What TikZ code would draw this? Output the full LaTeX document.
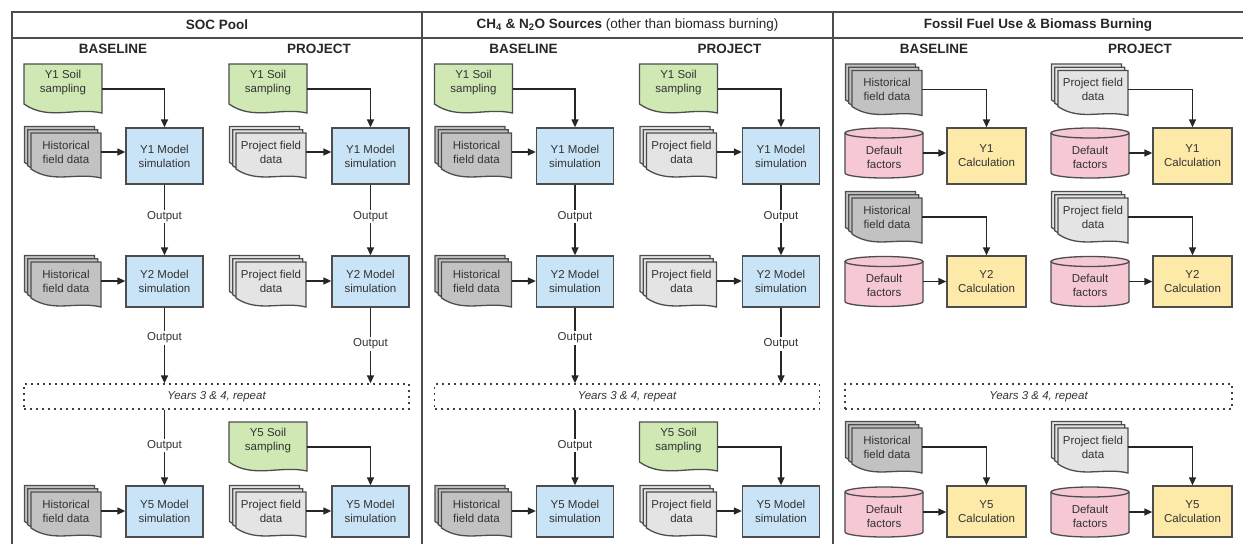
\documentclass[tikz,border=0pt]{standalone}
\usepackage{fontspec}
\setmainfont{Liberation Sans}
\usepackage{xcolor}
\usetikzlibrary{arrows.meta}

\definecolor{soilgreen}{HTML}{CFE8B4}
\definecolor{simblue}{HTML}{C9E4F6}
\definecolor{histgray}{HTML}{C2C2C2}
\definecolor{projgray}{HTML}{E4E4E4}
\definecolor{factpink}{HTML}{F5C8D4}
\definecolor{calcyellow}{HTML}{FDE9A8}
\definecolor{edge}{HTML}{4D4D4D}
\definecolor{ink}{HTML}{333333}

% soil sampling sheet: name, x, y, text
\newcommand\soildoc[4]{%
  \draw[shp,fill=soilgreen,shift={(#2,#3)}] (-39,-19) -- (39,-19) -- (39,30)
    .. controls (12,24) and (-15,38) .. (-39,21) -- cycle;
  \node[doclbl,minimum width=78pt] (#1) at (#2,#3) {#4};}
% pile of field data sheets: name, x, y, fill, text
\newcommand\stackdoc[5]{%
  \foreach \s in {6.6,3.3,0}{
    \draw[shp,fill=#4,shift={(#2-\s,#3-\s)}] (-35,-19) -- (35,-19) -- (35,26)
      .. controls (10,20) and (-13,32) .. (-35,17) -- cycle;}
  \node[doclbl,minimum width=70pt] (#1) at (#2,#3) {#5};}
% default factors drum: name, x, y, text
\newcommand\factcyl[4]{%
  \draw[shp,fill=factpink,shift={(#2,#3)}] (-39,-20) -- (-39,20) arc (180:0:39 and 5) -- (39,-20);
  \draw[shp,fill=factpink,shift={(#2,#3)}] (0,-20) ellipse (39 and 5);
  \node[doclbl,minimum width=78pt] (#1) at (#2,#3+4) {#4};}

\begin{document}
\begin{tikzpicture}[x=1pt,y=-1pt,
  shp/.style={draw=edge,line width=1.3pt},
  doclbl/.style={text=ink,align=center,font=\fontsize{11.5}{14}\selectfont,inner sep=0pt},
  simbox/.style={shp,fill=simblue,doclbl,minimum width=77pt,minimum height=51pt},
  calcbox/.style={shp,fill=calcyellow,doclbl,minimum width=79pt,minimum height=51pt},
  yrsbox/.style={draw=black!75,line width=1.3pt,dash pattern=on 2pt off 4pt,doclbl,
    font=\fontsize{11.5}{14}\selectfont\itshape,minimum height=25pt},
  arr/.style={draw=black!85,line width=1.3pt,-{Triangle[length=8pt,width=7pt]}},
  outlbl/.style={fill=white,doclbl,inner sep=1.5pt},
  colhead/.style={font=\fontsize{13.5}{16}\selectfont\bfseries,text=black!85},
  frame/.style={draw=black!70,line width=1.3pt}]
\useasboundingbox (0,0) rectangle (1243,544);
\draw[frame] (12,544) -- (12,12) -- (1243,12);
\draw[frame] (12,38) -- (1243,38);
\draw[frame] (422,12) -- (422,544);
\draw[frame] (833,12) -- (833,544);
\node[colhead] (h-soc) at (217,25) {SOC Pool};
\node[colhead] (h-ghg) at (627.5,25) {CH\textsubscript{4} \& N\textsubscript{2}O Sources \textmd{(other than biomass burning)}};
\node[colhead] (h-ff) at (1038,25) {Fossil Fuel Use \& Biomass Burning};
\node[colhead] (h-sa) at (113,49) {BASELINE};
\node[colhead] (h-sb) at (319,49) {PROJECT};
\node[colhead] (h-ga) at (523.5,49) {BASELINE};
\node[colhead] (h-gb) at (729.5,49) {PROJECT};
\node[colhead] (h-fa) at (934,49) {BASELINE};
\node[colhead] (h-fb) at (1140,49) {PROJECT};

% SOC pool
\soildoc{sa-soil1}{63}{83}{Y1 Soil\\sampling}
\stackdoc{sa-data1}{66}{152}{histgray}{Historical\\field data}
\node[simbox,minimum height=56pt] (sa-sim1) at (164.5,156) {Y1 Model\\simulation};
\stackdoc{sa-data2}{66}{281}{histgray}{Historical\\field data}
\node[simbox] (sa-sim2) at (164.5,281.5) {Y2 Model\\simulation};
\stackdoc{sa-data5}{66}{511}{histgray}{Historical\\field data}
\node[simbox] (sa-sim5) at (164.5,511.5) {Y5 Model\\simulation};
\soildoc{sb-soil1}{268}{83}{Y1 Soil\\sampling}
\stackdoc{sb-data1}{271}{152}{projgray}{Project field\\data}
\node[simbox,minimum height=56pt] (sb-sim1) at (370.5,156) {Y1 Model\\simulation};
\stackdoc{sb-data2}{271}{281}{projgray}{Project field\\data}
\node[simbox] (sb-sim2) at (370.5,281.5) {Y2 Model\\simulation};
\soildoc{sb-soil5}{268}{441}{Y5 Soil\\sampling}
\stackdoc{sb-data5}{271}{511}{projgray}{Project field\\data}
\node[simbox] (sb-sim5) at (370.5,511.5) {Y5 Model\\simulation};
\node[yrsbox,minimum width=385pt] (s-yrs) at (216.5,396.5) {Years 3 \& 4, repeat};
\draw[arr] ([yshift=-6pt]sa-soil1.east) -| (sa-sim1.north);
\draw[arr] (sa-data1.east) -- (sa-data1.east -| sa-sim1.west);
\draw[arr] (sa-sim1) -- node[outlbl,pos=0.45]{Output} (sa-sim2);
\draw[arr] (sa-data2.east) -- (sa-data2.east -| sa-sim2.west);
\draw[arr] (sa-sim2.south) -- node[outlbl,pos=0.4]{Output} (sa-sim2.south |- s-yrs.north);
\draw[arr] (s-yrs.south -| sa-sim5.north) -- node[outlbl,pos=0.47]{Output} (sa-sim5.north);
\draw[arr] (sa-data5.east) -- (sa-data5.east -| sa-sim5.west);
\draw[arr] ([yshift=-6pt]sb-soil1.east) -| (sb-sim1.north);
\draw[arr] (sb-data1.east) -- (sb-data1.east -| sb-sim1.west);
\draw[arr] (sb-sim1) -- node[outlbl,pos=0.45]{Output} (sb-sim2);
\draw[arr] (sb-data2.east) -- (sb-data2.east -| sb-sim2.west);
\draw[arr] (sb-sim2.south) -- node[outlbl,pos=0.48]{Output} (sb-sim2.south |- s-yrs.north);
\draw[arr] ([yshift=-6pt]sb-soil5.east) -| (sb-sim5.north);
\draw[arr] (sb-data5.east) -- (sb-data5.east -| sb-sim5.west);

% CH4 and N2O sources
\soildoc{ga-soil1}{473.5}{83}{Y1 Soil\\sampling}
\stackdoc{ga-data1}{476.5}{152}{histgray}{Historical\\field data}
\node[simbox,minimum height=56pt] (ga-sim1) at (575,156) {Y1 Model\\simulation};
\stackdoc{ga-data2}{476.5}{281}{histgray}{Historical\\field data}
\node[simbox] (ga-sim2) at (575,281.5) {Y2 Model\\simulation};
\stackdoc{ga-data5}{476.5}{511}{histgray}{Historical\\field data}
\node[simbox] (ga-sim5) at (575,511.5) {Y5 Model\\simulation};
\soildoc{gb-soil1}{678.5}{83}{Y1 Soil\\sampling}
\stackdoc{gb-data1}{681.5}{152}{projgray}{Project field\\data}
\node[simbox,minimum height=56pt] (gb-sim1) at (781,156) {Y1 Model\\simulation};
\stackdoc{gb-data2}{681.5}{281}{projgray}{Project field\\data}
\node[simbox] (gb-sim2) at (781,281.5) {Y2 Model\\simulation};
\soildoc{gb-soil5}{678.5}{441}{Y5 Soil\\sampling}
\stackdoc{gb-data5}{681.5}{511}{projgray}{Project field\\data}
\node[simbox] (gb-sim5) at (781,511.5) {Y5 Model\\simulation};
\node[yrsbox,minimum width=385pt] (g-yrs) at (627,396.5) {Years 3 \& 4, repeat};
\draw[arr] ([yshift=-6pt]ga-soil1.east) -| (ga-sim1.north);
\draw[arr] (ga-data1.east) -- (ga-data1.east -| ga-sim1.west);
\draw[arr] (ga-sim1) -- node[outlbl,pos=0.45]{Output} (ga-sim2);
\draw[arr] (ga-data2.east) -- (ga-data2.east -| ga-sim2.west);
\draw[arr] (ga-sim2.south) -- node[outlbl,pos=0.4]{Output} (ga-sim2.south |- g-yrs.north);
\draw[arr] (g-yrs.south -| ga-sim5.north) -- node[outlbl,pos=0.47]{Output} (ga-sim5.north);
\draw[arr] (ga-data5.east) -- (ga-data5.east -| ga-sim5.west);
\draw[arr] ([yshift=-6pt]gb-soil1.east) -| (gb-sim1.north);
\draw[arr] (gb-data1.east) -- (gb-data1.east -| gb-sim1.west);
\draw[arr] (gb-sim1) -- node[outlbl,pos=0.45]{Output} (gb-sim2);
\draw[arr] (gb-data2.east) -- (gb-data2.east -| gb-sim2.west);
\draw[arr] (gb-sim2.south) -- node[outlbl,pos=0.48]{Output} (gb-sim2.south |- g-yrs.north);
\draw[arr] ([yshift=-6pt]gb-soil5.east) -| (gb-sim5.north);
\draw[arr] (gb-data5.east) -- (gb-data5.east -| gb-sim5.west);

% fossil fuel use and biomass burning
\stackdoc{fa-data1}{887}{89.5}{histgray}{Historical\\field data}
\factcyl{fa-fact1}{884}{153}{Default\\factors}
\node[calcbox,minimum height=56pt] (fa-calc1) at (986.5,156) {Y1\\Calculation};
\stackdoc{fa-data2}{887}{217}{histgray}{Historical\\field data}
\factcyl{fa-fact2}{884}{281.5}{Default\\factors}
\node[calcbox] (fa-calc2) at (986.5,281.5) {Y2\\Calculation};
\stackdoc{fa-data5}{887}{447}{histgray}{Historical\\field data}
\factcyl{fa-fact5}{884}{512}{Default\\factors}
\node[calcbox] (fa-calc5) at (986.5,511.5) {Y5\\Calculation};
\stackdoc{fb-data1}{1093}{89.5}{projgray}{Project field\\data}
\factcyl{fb-fact1}{1090}{153}{Default\\factors}
\node[calcbox,minimum height=56pt] (fb-calc1) at (1192.5,156) {Y1\\Calculation};
\stackdoc{fb-data2}{1093}{217}{projgray}{Project field\\data}
\factcyl{fb-fact2}{1090}{281.5}{Default\\factors}
\node[calcbox] (fb-calc2) at (1192.5,281.5) {Y2\\Calculation};
\stackdoc{fb-data5}{1093}{447}{projgray}{Project field\\data}
\factcyl{fb-fact5}{1090}{512}{Default\\factors}
\node[calcbox] (fb-calc5) at (1192.5,511.5) {Y5\\Calculation};
\node[yrsbox,minimum width=387pt] (f-yrs) at (1038.5,396.5) {Years 3 \& 4, repeat};
\draw[arr] (fa-data1.east) -| (fa-calc1.north);
\draw[arr] ([yshift=4pt]fa-fact1.east) -- ([yshift=4pt]fa-fact1.east -| fa-calc1.west);
\draw[arr] (fa-data2.east) -| (fa-calc2.north);
\draw[arr] ([yshift=4pt]fa-fact2.east) -- ([yshift=4pt]fa-fact2.east -| fa-calc2.west);
\draw[arr] (fa-data5.east) -| (fa-calc5.north);
\draw[arr] ([yshift=4pt]fa-fact5.east) -- ([yshift=4pt]fa-fact5.east -| fa-calc5.west);
\draw[arr] (fb-data1.east) -| (fb-calc1.north);
\draw[arr] ([yshift=4pt]fb-fact1.east) -- ([yshift=4pt]fb-fact1.east -| fb-calc1.west);
\draw[arr] (fb-data2.east) -| (fb-calc2.north);
\draw[arr] ([yshift=4pt]fb-fact2.east) -- ([yshift=4pt]fb-fact2.east -| fb-calc2.west);
\draw[arr] (fb-data5.east) -| (fb-calc5.north);
\draw[arr] ([yshift=4pt]fb-fact5.east) -- ([yshift=4pt]fb-fact5.east -| fb-calc5.west);
\end{tikzpicture}
\end{document}
